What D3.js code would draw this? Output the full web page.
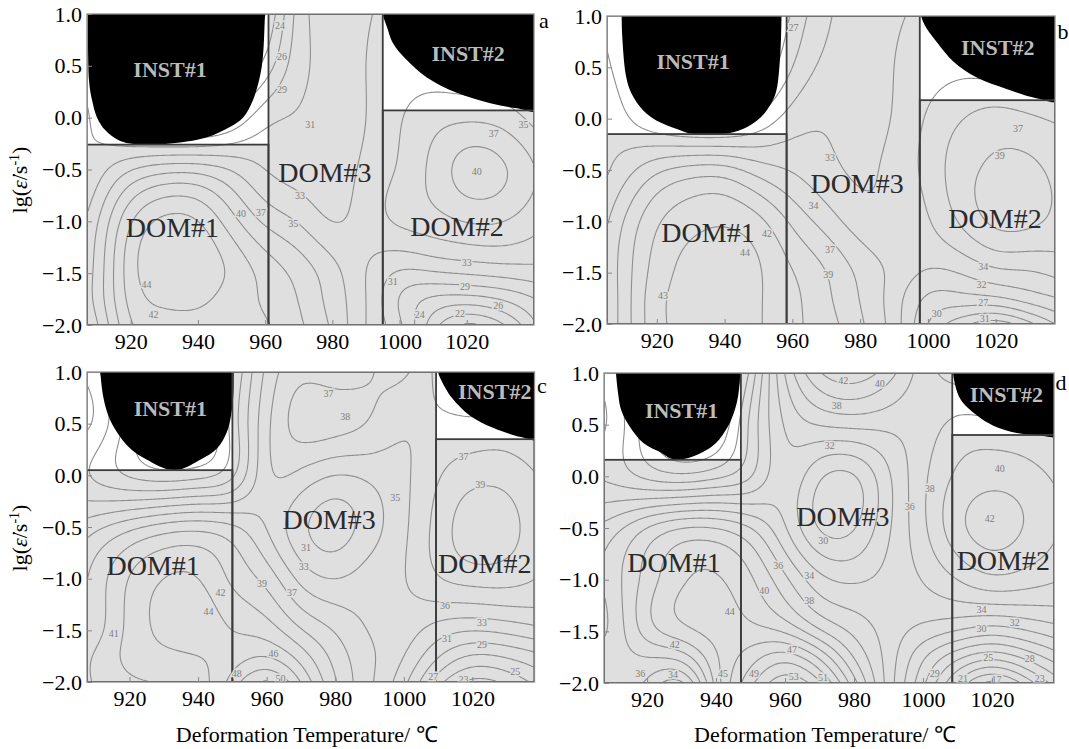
<!DOCTYPE html>
<html>
<head>
<meta charset="utf-8">
<script src="https://cdn.jsdelivr.net/npm/d3@7"></script>
<style>
body { margin: 0; background: #fff; }
svg { display: block; }
text { font-family: "Liberation Serif", "Times New Roman", serif; }
</style>
</head>
<body>
<svg id="chart" width="1069" height="749"></svg>
<script>
// grid nodes of the efficiency maps
const tempNodes = d3.range(900, 1041, 10);
const rateNodes = [1, 0.5, 0, -0.5, -1, -1.5, -1.75, -2];

// power dissipation efficiency (%), one row per rateNodes entry
const etaA = [
  [30, 26, 20, 17, 17, 19, 22, 29.5, 31.8, 32.8, 33.5, 33, 32, 31, 30],
  [32, 28, 22, 19, 19, 21, 25, 30, 31.5, 33, 34, 34, 33.5, 33, 32],
  [33, 30, 26, 24, 24, 26.5, 30, 31, 31.8, 33, 35, 36.5, 37, 36.5, 34.5],
  [29, 32, 35, 36.5, 36.5, 35, 33, 32, 32, 33.5, 35.5, 38, 40.5, 40, 37.5],
  [30, 35, 41.5, 44.5, 44, 40.5, 37, 35, 33, 34, 35.5, 36.5, 37.5, 37.5, 36],
  [31, 36, 43, 45.5, 45.5, 43.5, 41, 38.8, 36, 33, 30.5, 30.5, 31, 31.5, 32],
  [31, 36, 42.5, 44.5, 44.5, 43, 41.5, 39.5, 36.5, 33, 28.5, 26, 25.5, 26.5, 28.5],
  [30, 35, 41.5, 43, 43, 42.5, 42, 40, 37, 33, 29, 23, 19.5, 21.5, 26]
];
const etaB = [
  [30, 27, 20, 17, 17, 20, 25, 29, 30.5, 31.5, 32, 31, 30, 29, 28],
  [31, 28, 22, 19, 19, 22, 27, 30, 30.5, 31.8, 33, 33.5, 33, 32, 31],
  [32, 30, 27, 25, 25, 27.5, 30.5, 31.5, 31, 32, 34.5, 36.5, 37.5, 37, 36],
  [30, 33, 36, 37.5, 37.5, 35.5, 34, 32.5, 31.5, 32.5, 35, 38, 39.5, 39.5, 38],
  [31, 36.5, 41, 43, 43.5, 42, 38.5, 35.5, 33, 32.5, 34, 37, 39.5, 39.5, 38],
  [32, 37.5, 42.5, 44.5, 45, 44, 41.5, 39, 36, 33.5, 31.5, 32, 33.5, 34, 35],
  [32, 37.5, 43, 44.5, 45, 44, 42, 39.5, 36.5, 33, 29, 28.5, 29, 30.5, 32],
  [32, 37.5, 43, 44.5, 45, 44, 42, 40, 37, 33, 27, 23, 21, 24, 28]
];
const etaC = [
  [32, 30, 24, 20, 20, 27, 34, 37, 36.5, 37.5, 38, 35, 33, 33, 33],
  [33, 31, 26, 22, 22, 28, 35, 38.5, 38.5, 37.5, 36, 36, 36, 36, 35],
  [31, 29, 27, 26, 26.5, 29, 35, 35, 33.5, 34, 35.2, 37.5, 39, 39, 37.5],
  [33, 35, 37, 38.5, 39, 38, 35.5, 32, 30.5, 32.5, 35.2, 38.5, 41, 40.5, 38.5],
  [35, 38.5, 42, 44, 44, 41.5, 39, 35, 33.5, 34.5, 35.5, 37.5, 38.5, 38.5, 37.5],
  [37, 39, 42.5, 44.5, 45, 44, 43, 40, 37.5, 35.5, 34.5, 32.5, 31.5, 32, 33],
  [38, 40, 42.5, 43.5, 44, 45, 46, 43, 39, 36, 33.5, 29.5, 27, 27.5, 29],
  [38, 40, 41.5, 42, 43, 47, 50.5, 46, 40, 36, 32, 26, 22.5, 23.5, 26]
];
const etaD = [
  [30, 28, 22, 18, 18, 26, 36, 42, 43.5, 41, 37, 35, 34, 34, 34],
  [31, 29, 24, 20, 21, 28, 34, 36, 36.5, 36.5, 37, 38.5, 38.5, 38, 37],
  [30, 29, 27, 26, 27, 29.5, 33, 30, 29.5, 33.5, 37.5, 40.5, 41.5, 41, 39.5],
  [33, 35, 38, 40, 40, 38, 34, 29.5, 29.5, 33.5, 37.5, 41.5, 43, 42, 40],
  [34, 37, 41, 44, 44.5, 42.5, 38.5, 34.5, 33.5, 34.5, 36, 38, 39.5, 39, 38],
  [34, 36.5, 41, 43.5, 45, 45, 44, 40.5, 37.5, 35, 33, 31.5, 30.5, 31.5, 33],
  [36, 37, 38, 39, 44, 47.5, 49.5, 46, 40, 35, 30, 26, 24, 26, 29],
  [36, 37, 35.5, 33.5, 43, 50, 54, 51, 43, 35, 28, 21, 16.5, 20, 25]
];

// instability regions, boundary as [T, lg strain rate]
const instA1 = [[960.3,1.1],[960,1],[959,0.49],[956.4,0.17],[953.4,0],[949.5,-0.09],[942.7,-0.19],[934.7,-0.24],[926,-0.26],[919.8,-0.25],[916,-0.21],[912.4,-0.12],[910,0],[908.5,0.17],[907.6,0.36],[907.3,1.1]];
const instA2 = [[995,1.1],[995,1],[996.3,0.87],[998,0.72],[1002,0.56],[1008,0.39],[1017,0.24],[1027,0.14],[1035,0.09],[1042,0.07],[1042,1.1]];
const instB1 = [[956.8,1.1],[956.8,1],[956.3,0.56],[955,0.24],[952.4,0.08],[949.5,-0.02],[945.4,-0.1],[939.5,-0.15],[930.7,-0.15],[925.9,-0.1],[920,-0.02],[916,0.08],[912.6,0.24],[911,0.4],[909.8,0.8],[909.6,1.1]];
const instB2 = [[998,1.1],[998,1],[999.6,0.88],[1003,0.73],[1007.4,0.56],[1014.4,0.4],[1023.2,0.29],[1032,0.2],[1039,0.18],[1039,1.1]];
const instC1 = [[950.3,1.1],[950.3,0.8],[949.6,0.58],[948.4,0.42],[945.5,0.26],[940.6,0.15],[935,0.06],[931,0.06],[925.1,0.15],[920.2,0.26],[916.3,0.42],[913.8,0.58],[912.4,0.75],[911.5,1],[911.5,1.1]];
const instC2 = [[1010,1.1],[1010,1],[1010.5,0.95],[1014,0.75],[1019.2,0.58],[1026,0.46],[1034.2,0.37],[1040,0.35],[1040,1.1]];
const instD1 = [[947,1.1],[947,1],[946.5,0.8],[945.4,0.64],[943.4,0.48],[939.9,0.32],[935.9,0.23],[931,0.17],[927,0.17],[924,0.23],[919,0.32],[915,0.48],[912.5,0.64],[911.6,0.8],[911,1],[911,1.1]];
const instD2 = [[1008.7,1.1],[1008.7,1],[1010.8,0.75],[1015.6,0.59],[1020.4,0.49],[1027.2,0.42],[1033,0.4],[1040,0.4],[1040,1.1]];

// stable domains: [T from, T to, upper lg] (all reach down to -2)
const domA = [[907, 961, -0.26], [961, 995, 1], [995, 1040, 0.07]];
const domB = [[905.3, 958.3, -0.15], [958.3, 997.6, 1], [997.6, 1037.5, 0.18]];
const domC = [[907.6, 950, 0.05], [950, 1009.4, 1], [1009.4, 1038.1, 0.35]];
const domD = [[907.5, 947.2, 0.16], [947.2, 1008.5, 1], [1008.5, 1038, 0.4]];

// region names [text, T, lg]
const namesA = [['INST#1',931.7,0.46],['INST#2',1020.4,0.62],['DOM#1',932.4,-1.06],['DOM#2',1017.1,-1.05],['DOM#3',977.8,-0.53]];
const namesB = [['INST#1',930.7,0.56],['INST#2',1020.6,0.69],['DOM#1',935.1,-1.11],['DOM#2',1019.8,-0.97],['DOM#3',979.1,-0.63]];
const namesC = [['INST#1',931.9,0.65],['INST#2',1026.5,0.81],['DOM#1',926.9,-0.87],['DOM#2',1023.6,-0.85],['DOM#3',978.2,-0.43]];
const namesD = [['INST#1',930,0.64],['INST#2',1024.2,0.79],['DOM#1',927.8,-0.83],['DOM#2',1023.3,-0.81],['DOM#3',976.8,-0.39]];

// contour value labels [T, lg, text]
const labelsA = [[964.4,0.89,'24'],[965,0.59,'26'],[965,0.27,'29'],[973.4,-0.07,'31'],[970.4,-0.75,'33'],[968.4,-1.02,'35'],[952.8,-0.92,'40'],[958.8,-0.91,'37'],[924.7,-1.61,'44'],[926.8,-1.9,'42'],[1023,-0.52,'40'],[1028,-0.15,'37'],[1036.9,-0.07,'35'],[1020,-1.4,'33'],[998,-1.58,'31'],[1019.5,-1.63,'29'],[1029.4,-1.81,'26'],[1018,-1.89,'22'],[1006,-1.9,'24']];
const labelsB = [[960.3,0.89,'27'],[971.1,-0.38,'33'],[966.2,-0.85,'34'],[971.1,-1.27,'37'],[970.6,-1.52,'39'],[946,-1.3,'44'],[952.5,-1.12,'42'],[921.8,-1.72,'43'],[1026.6,-0.1,'37'],[1021.2,-0.36,'39'],[1016.3,-1.44,'34'],[1015.8,-1.62,'32'],[1016.3,-1.79,'27'],[1016.8,-1.95,'31'],[1002.6,-1.9,'30']];
const labelsC = [[978,0.79,'37'],[982.9,0.57,'38'],[997.5,-0.21,'35'],[971.5,-0.7,'31'],[970.8,-0.88,'33'],[958.6,-1.05,'39'],[967.4,-1.13,'37'],[946.5,-1.13,'42'],[943,-1.32,'44'],[915.4,-1.53,'41'],[962,-1.72,'46'],[951.3,-1.92,'48'],[964,-1.97,'50'],[1017.4,0.18,'37'],[1022.3,-0.09,'39'],[1012,-1.26,'36'],[1022.8,-1.42,'33'],[1012.6,-1.58,'31'],[1022.8,-1.64,'29'],[1008.6,-1.95,'27'],[1017.4,-1.98,'23'],[1032.5,-1.9,'25']];
const labelsD = [[976.9,0.93,'42'],[987.5,0.9,'40'],[975,0.69,'38'],[973,0.3,'32'],[971.1,-0.62,'30'],[967,-0.96,'34'],[958,-0.86,'36'],[954,-1.1,'40'],[967,-1.2,'38'],[944,-1.31,'44'],[928,-1.63,'42'],[962,-1.68,'47'],[918,-1.91,'36'],[927.5,-1.92,'34'],[942,-1.91,'45'],[951,-1.91,'49'],[962.5,-1.94,'53'],[971,-1.95,'51'],[996.2,-0.29,'36'],[1002,-0.12,'38'],[1022.3,0.08,'40'],[1019.4,-0.41,'42'],[1017,-1.29,'34'],[1026.6,-1.41,'32'],[1017,-1.47,'30'],[1018.9,-1.75,'25'],[1031,-1.76,'28'],[1011.6,-1.96,'21'],[1021.3,-1.97,'17'],[1033.9,-1.96,'23'],[1003.4,-1.91,'29']];

const xTicks = [920, 940, 960, 980, 1000, 1020];
const yTicks = [1, 0.5, 0, -0.5, -1, -1.5, -2];

const panels = [
  {id: 'a', eta: etaA, inst: [instA1, instA2], dom: domA, names: namesA, labels: labelsA, lev: [22, 2.2],
   box: [87, 14, 534, 325], tDom: [907, 1040], letter: [544, 28], yTitle: 180, xTitle: false},
  {id: 'b', eta: etaB, inst: [instB1, instB2], dom: domB, names: namesB, labels: labelsB, lev: [27, 2.4],
   box: [607, 16, 1055, 324], tDom: [905.3, 1037.5], letter: [1063, 39], yTitle: false, xTitle: false},
  {id: 'c', eta: etaC, inst: [instC1, instC2], dom: domC, names: namesC, labels: labelsC, lev: [23, 2.1],
   box: [87, 372, 534.5, 682], tDom: [907.6, 1038.1], letter: [542, 393], yTitle: 538, xTitle: true},
  {id: 'd', eta: etaD, inst: [instD1, instD2], dom: domD, names: namesD, labels: labelsD, lev: [17, 2.1],
   box: [604, 373, 1054, 683], tDom: [907.5, 1038], letter: [1061, 390], yTitle: false, xTitle: true}
];

// natural cubic spline through (xs, ys), xs ascending
function spline(xs, ys) {
  const n = xs.length - 1;
  const h = d3.range(n).map(i => xs[i + 1] - xs[i]);
  const al = [0];
  for (let i = 1; i < n; i++) al[i] = 3 / h[i] * (ys[i + 1] - ys[i]) - 3 / h[i - 1] * (ys[i] - ys[i - 1]);
  const l = [1], mu = [0], z = [0];
  for (let i = 1; i < n; i++) {
    l[i] = 2 * (xs[i + 1] - xs[i - 1]) - h[i - 1] * mu[i - 1];
    mu[i] = h[i] / l[i];
    z[i] = (al[i] - h[i - 1] * z[i - 1]) / l[i];
  }
  const c = new Array(n + 1).fill(0), b = [], d = [];
  for (let j = n - 1; j >= 0; j--) {
    c[j] = z[j] - mu[j] * c[j + 1];
    b[j] = (ys[j + 1] - ys[j]) / h[j] - h[j] * (c[j + 1] + 2 * c[j]) / 3;
    d[j] = (c[j + 1] - c[j]) / (3 * h[j]);
  }
  return x => {
    let j = Math.max(0, Math.min(n - 1, d3.bisectRight(xs, x) - 1));
    const dx = x - xs[j];
    return ys[j] + b[j] * dx + c[j] * dx * dx + d[j] * dx * dx * dx;
  };
}

const NX = 220, NY = 150;

function field(eta, tDom) {
  const Ts = d3.range(NX).map(i => tDom[0] + (i + 0.5) * (tDom[1] - tDom[0]) / NX);
  const Ls = d3.range(NY).map(j => 1 - (j + 0.5) * 3 / NY);
  const rows = eta.map(r => Ts.map(spline(tempNodes, r)));
  const lgAsc = rateNodes.slice().reverse();
  const values = new Float64Array(NX * NY);
  for (let i = 0; i < NX; i++) {
    const f = spline(lgAsc, rows.map(r => r[i]).reverse());
    for (let j = 0; j < NY; j++) values[i + j * NX] = f(Ls[j]);
  }
  return values;
}

const svg = d3.select('#chart');
const fmt = d3.format('.1f');

panels.forEach(p => {
  const [x0, y0, x1, y1] = p.box;
  const x = d3.scaleLinear().domain(p.tDom).range([x0, x1]);
  const y = d3.scaleLinear().domain([-2, 1]).range([y1, y0]);
  const g = svg.append('g');

  g.append('clipPath').attr('id', 'clip-' + p.id)
    .append('rect').attr('x', x0).attr('y', y0).attr('width', x1 - x0).attr('height', y1 - y0);
  const plot = g.append('g').attr('clip-path', `url(#clip-${p.id})`);

  plot.append('rect').attr('x', x0).attr('y', y0).attr('width', x1 - x0).attr('height', y1 - y0).attr('fill', '#fff');

  plot.selectAll('.domfill').data(p.dom).join('rect').attr('class', 'domfill')
    .attr('x', d => x(d[0])).attr('y', d => y(d[2]))
    .attr('width', d => x(d[1]) - x(d[0])).attr('height', d => y(-2) - y(d[2]))
    .attr('fill', '#dfdfdf');

  // iso-efficiency lines
  const values = field(p.eta, p.tDom);
  const step = p.lev[1];
  const levels = d3.range(p.lev[0] - step * Math.floor((p.lev[0] - 10) / step), 62, step);
  const contours = d3.contours().size([NX, NY]).thresholds(levels)(values);
  const proj = d3.geoTransform({
    point(px, py) {
      this.stream.point(x(p.tDom[0] + px * (p.tDom[1] - p.tDom[0]) / NX), y(1 - py * 3 / NY));
    }
  });
  plot.append('g').selectAll('path').data(contours).join('path')
    .attr('d', d3.geoPath(proj))
    .attr('fill', 'none').attr('stroke', '#8e8e8e').attr('stroke-width', 1.1);

  // instability regions
  const line = d3.line().x(d => x(d[0])).y(d => y(d[1])).curve(d3.curveCatmullRom.alpha(0.5));
  plot.selectAll('.inst').data(p.inst).join('path').attr('class', 'inst')
    .attr('d', d => line(d) + 'Z').attr('fill', '#000');

  plot.selectAll('.domline').data(p.dom).join('rect').attr('class', 'domline')
    .attr('x', d => x(d[0])).attr('y', d => y(d[2]))
    .attr('width', d => x(d[1]) - x(d[0])).attr('height', d => y(-2) - y(d[2]))
    .attr('fill', 'none').attr('stroke', '#3c3c3c').attr('stroke-width', 1.8);

  const inDom = d => p.dom.some(r => d[0] >= r[0] && d[0] <= r[1] && d[1] <= r[2]);
  plot.selectAll('.clab').data(p.labels).join('text').attr('class', 'clab')
    .attr('x', d => x(d[0])).attr('y', d => y(d[1]) + 3.5)
    .attr('text-anchor', 'middle').attr('font-size', 10)
    .attr('fill', '#808080')
    .attr('stroke', d => inDom(d) ? '#dfdfdf' : '#fff').attr('stroke-width', 3)
    .attr('paint-order', 'stroke')
    .text(d => d[2]);

  g.selectAll('.rname').data(p.names).join('text').attr('class', 'rname')
    .attr('x', d => x(d[1])).attr('y', d => y(d[2]))
    .attr('text-anchor', 'middle').attr('dominant-baseline', 'central')
    .attr('font-size', d => d[0].startsWith('INST') ? 22 : 28)
    .attr('font-weight', d => d[0].startsWith('INST') ? 'bold' : 'normal')
    .attr('fill', d => d[0].startsWith('INST') ? '#bcbcbc' : '#2a2a2a')
    .attr('clip-path', `url(#clip-${p.id})`)
    .text(d => d[0]);

  // frame and ticks
  g.append('rect').attr('x', x0).attr('y', y0).attr('width', x1 - x0).attr('height', y1 - y0)
    .attr('fill', 'none').attr('stroke', '#8a8a8a').attr('stroke-width', 1.3);

  g.append('g').attr('transform', `translate(0,${y1})`)
    .call(d3.axisBottom(x).tickValues(xTicks).tickSize(-5).tickPadding(8).tickFormat(d3.format('d')))
    .call(s => s.select('.domain').remove())
    .call(s => s.selectAll('line').attr('stroke', '#888'))
    .call(s => s.selectAll('text').attr('font-size', 22).attr('fill', '#000')
      .attr('font-family', '"Liberation Serif", serif'));

  g.append('g').attr('transform', `translate(${x0},0)`)
    .call(d3.axisLeft(y).tickValues(yTicks).tickSize(-5).tickPadding(5).tickFormat(fmt))
    .call(s => s.select('.domain').remove())
    .call(s => s.selectAll('line').attr('stroke', '#888'))
    .call(s => s.selectAll('text').attr('font-size', 22).attr('fill', '#000')
      .attr('font-family', '"Liberation Serif", serif'));

  g.append('text').attr('x', p.letter[0]).attr('y', p.letter[1])
    .attr('text-anchor', 'middle').attr('font-size', 22).text(p.id);

  if (p.yTitle) {
    const t = g.append('text')
      .attr('transform', `translate(27,${p.yTitle}) rotate(-90)`)
      .attr('text-anchor', 'middle').attr('font-size', 22);
    t.append('tspan').text('lg(');
    t.append('tspan').attr('font-style', 'italic').text('\u03B5\u0307');
    t.append('tspan').text('/s');
    t.append('tspan').attr('font-size', 14).attr('dy', -8).text('-1');
    t.append('tspan').attr('dy', 8).text(')');
  }
  if (p.xTitle) {
    g.append('text').attr('x', (x0 + x1) / 2 - 4).attr('y', 742)
      .attr('text-anchor', 'middle').attr('font-size', 22)
      .text('Deformation Temperature/ \u2103');
  }
});
</script>
</body>
</html>
